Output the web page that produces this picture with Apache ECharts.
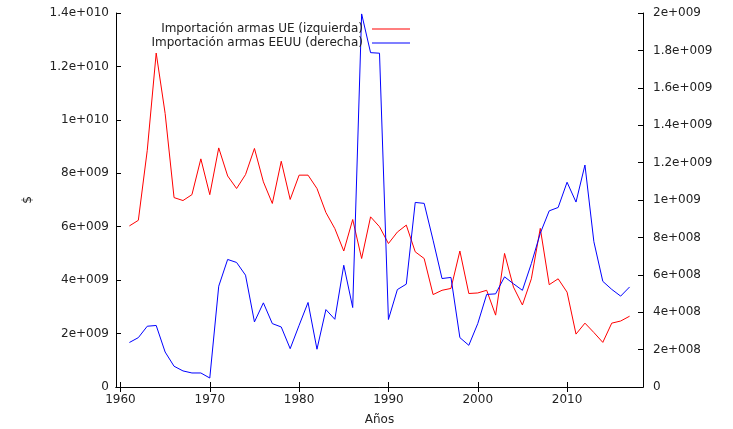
<!DOCTYPE html>
<html>
<head>
<meta charset="utf-8">
<script src="https://cdn.jsdelivr.net/npm/echarts@6/dist/echarts.min.js"></script>
<style>html,body{margin:0;padding:0;background:#fff}#c{width:733px;height:429px}</style>
</head>
<body>
<div id="c"></div>
<script>
const years = [1961,1962,1963,1964,1965,1966,1967,1968,1969,1970,1971,1972,1973,1974,1975,1976,1977,1978,1979,1980,1981,1982,1983,1984,1985,1986,1987,1988,1989,1990,1991,1992,1993,1994,1995,1996,1997,1998,1999,2000,2001,2002,2003,2004,2005,2006,2007,2008,2009,2010,2011,2012,2013,2014,2015,2016,2017];
const ueImports = [6.03e9,6.24e9,8.86e9,12.5e9,10.24e9,7.09e9,6.98e9,7.2e9,8.54e9,7.2e9,8.95e9,7.9e9,7.43e9,7.95e9,8.93e9,7.68e9,6.87e9,8.45e9,7.02e9,7.93e9,7.93e9,7.43e9,6.53e9,5.93e9,5.09e9,6.27e9,4.81e9,6.37e9,6.0e9,5.37e9,5.8e9,6.06e9,5.06e9,4.81e9,3.46e9,3.62e9,3.69e9,5.09e9,3.5e9,3.52e9,3.62e9,2.69e9,5.0e9,3.74e9,3.07e9,4.05e9,5.94e9,3.83e9,4.05e9,3.55e9,1.98e9,2.39e9,2.04e9,1.67e9,2.39e9,2.47e9,2.65e9];
const usImports = [2.38e8,2.64e8,3.25e8,3.29e8,1.87e8,1.11e8,0.86e8,0.75e8,0.75e8,0.48e8,5.39e8,6.82e8,6.66e8,5.98e8,3.48e8,4.5e8,3.39e8,3.21e8,2.05e8,3.3e8,4.52e8,2.02e8,4.14e8,3.62e8,6.51e8,4.25e8,19.95e8,17.88e8,17.85e8,3.61e8,5.21e8,5.5e8,9.87e8,9.82e8,7.85e8,5.8e8,5.86e8,2.64e8,2.23e8,3.39e8,4.95e8,4.98e8,5.89e8,5.52e8,5.17e8,6.6e8,8.22e8,9.42e8,9.6e8,10.95e8,9.89e8,11.87e8,7.77e8,5.65e8,5.22e8,4.86e8,5.35e8];
const xTicks = [1960,1970,1980,1990,2000,2010];
const seriesNames = ['Importación armas UE (izquierda)','Importación armas EEUU (derecha)'];
const axisTitles = {x:'Años', y:'$'};

function gp(v){
  if (v === 0) return '0';
  const e = Math.floor(Math.log10(v) + 1e-9);
  const m = parseFloat((v / Math.pow(10, e)).toFixed(2));
  return m + 'e+' + String(e).padStart(3, '0');
}

const font = 'DejaVu Sans';
const txt = '#222';
const chart = echarts.init(document.getElementById('c'), null, {renderer:'canvas'});
chart.setOption({
  animation: false,
  backgroundColor: '#fff',
  textStyle: {fontFamily: font},
  grid: {left:116, right:90, top:13, bottom:42, containLabel:false, outerBoundsMode:'none'},
  legend: {
    orient: 'vertical', align: 'right', right: 318, top: 17, itemGap: 0,
    itemWidth: 38, itemHeight: 1, icon: 'rect',
    textStyle: {fontFamily: font, fontSize: 12, color: txt, lineHeight: 14, padding: [0,4,0,0]},
    data: seriesNames
  },
  xAxis: [{
    type: 'value', min: 1959.5, max: 2018.5, position: 'bottom',
    name: axisTitles.x, nameLocation: 'middle', nameGap: 27,
    nameTextStyle: {fontFamily: font, fontSize: 12, color: txt},
    axisLine: {show: true, lineStyle: {color: '#000', width: 1}},
    axisTick: {show: true, inside: true, length: 5, customValues: xTicks, lineStyle: {color: '#000'}},
    axisLabel: {customValues: xTicks, margin: 7, fontFamily: font, fontSize: 12, color: txt, formatter: v => String(v)},
    splitLine: {show: false}
  },{
    type: 'value', min: 1959.5, max: 2018.5, position: 'top',
    axisLine: {show: true, lineStyle: {color: '#000', width: 1}},
    axisTick: {show: true, inside: true, length: 5, customValues: xTicks, lineStyle: {color: '#000'}},
    axisLabel: {show: false},
    splitLine: {show: false}
  }],
  yAxis: [{
    type: 'value', min: 0, max: 1.4e10, interval: 2e9, position: 'left',
    name: axisTitles.y, nameLocation: 'middle', nameRotate: 90, nameGap: 82,
    nameTextStyle: {fontFamily: font, fontSize: 12, color: txt},
    axisLine: {show: true, lineStyle: {color: '#000', width: 1}},
    axisTick: {show: true, inside: true, length: 5, lineStyle: {color: '#000'}},
    axisLabel: {margin: 7, fontFamily: font, fontSize: 12, color: txt, formatter: gp},
    splitLine: {show: false}
  },{
    type: 'value', min: 0, max: 2e9, interval: 2e8, position: 'right',
    axisLine: {show: true, lineStyle: {color: '#000', width: 1}},
    axisTick: {show: true, inside: true, length: 5, lineStyle: {color: '#000'}},
    axisLabel: {margin: 10, fontFamily: font, fontSize: 12, color: txt, formatter: gp},
    splitLine: {show: false}
  }],
  series: [{
    name: seriesNames[0], type: 'line', xAxisIndex: 0, yAxisIndex: 0,
    symbol: 'none', color: '#ff0000', lineStyle: {color: '#ff0000', width: 1},
    data: years.map((y, i) => [y, ueImports[i]])
  },{
    name: seriesNames[1], type: 'line', xAxisIndex: 0, yAxisIndex: 1,
    symbol: 'none', color: '#0000ff', lineStyle: {color: '#0000ff', width: 1},
    data: years.map((y, i) => [y, usImports[i]])
  }]
});
</script>
</body>
</html>
